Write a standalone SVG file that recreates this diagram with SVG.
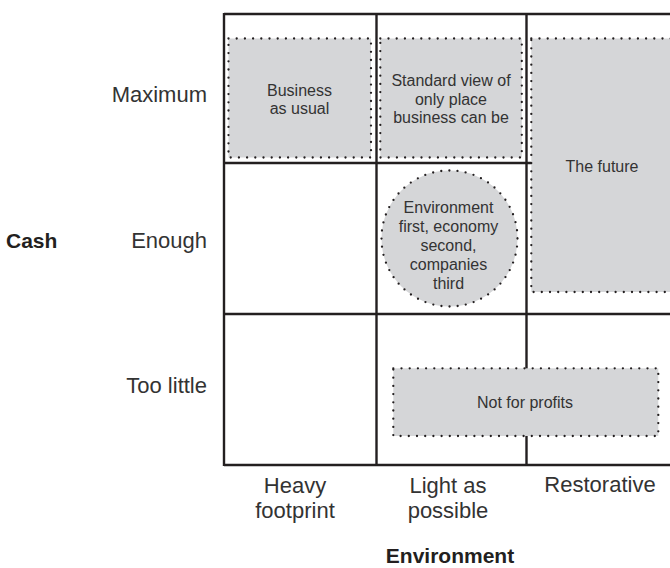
<svg xmlns="http://www.w3.org/2000/svg" width="670" height="568" viewBox="0 0 670 568">
<style>
  .grid { stroke: #231f20; stroke-width: 2.4; fill: none; }
  .zone { fill: #d5d6d8; stroke: #231f20; stroke-width: 2.3; stroke-dasharray: 0 8.2; stroke-linecap: round; }
  .t { font-family: "Liberation Sans", Arial, sans-serif; fill: #333; }
  .in { font-size: 16px; text-anchor: middle; }
  .ax { font-size: 22px; }
  .axb { font-size: 21px; font-weight: bold; fill: #231f20; }
</style>
<rect width="670" height="568" fill="#ffffff"/>
<g id="grid">
  <line class="grid" x1="224" y1="14" x2="670" y2="14"/>
  <line class="grid" x1="224" y1="163" x2="670" y2="163"/>
  <line class="grid" x1="224" y1="314" x2="670" y2="314"/>
  <line class="grid" x1="224" y1="465" x2="670" y2="465"/>
  <line class="grid" x1="224" y1="13" x2="224" y2="466"/>
  <line class="grid" x1="376.5" y1="13" x2="376.5" y2="466"/>
  <line class="grid" x1="526.5" y1="13" x2="526.5" y2="466"/>
</g>
<g id="connectors"></g>
<g id="business-as-usual">
  <rect class="zone" x="228.5" y="38.5" width="142.5" height="119"/>
  <text class="t in" x="299.5" y="96">Business</text>
  <text class="t in" x="299.5" y="114">as usual</text>
</g>
<g id="standard-view">
  <rect class="zone" x="380.3" y="38.5" width="141.5" height="119"/>
  <text class="t in" x="451" y="86">Standard view of</text>
  <text class="t in" x="451" y="104.5">only place</text>
  <text class="t in" x="451" y="123">business can be</text>
</g>
<g id="the-future">
  <rect class="zone" x="531.3" y="38.5" width="145" height="253.5"/>
  <text class="t in" x="602" y="172">The future</text>
</g>
<g id="environment-first">
  <circle class="zone" cx="449.5" cy="238.5" r="68"/>
  <text class="t in" x="448.5" y="212.5">Environment</text>
  <text class="t in" x="448.5" y="231.5">first, economy</text>
  <text class="t in" x="448.5" y="250.5">second,</text>
  <text class="t in" x="448.5" y="269.5">companies</text>
  <text class="t in" x="448.5" y="288.5">third</text>
</g>
<g id="not-for-profits">
  <rect class="zone" x="393.3" y="368.3" width="265" height="67.7"/>
  <text class="t in" x="525" y="408">Not for profits</text>
</g>
<g id="cash-axis">
  <text class="t axb" x="6" y="248">Cash</text>
  <text class="t ax" x="207" y="102" text-anchor="end">Maximum</text>
  <text class="t ax" x="207" y="248" text-anchor="end">Enough</text>
  <text class="t ax" x="207" y="393" text-anchor="end">Too little</text>
</g>
<g id="environment-axis">
  <text class="t ax" x="295" y="493" text-anchor="middle">Heavy</text>
  <text class="t ax" x="295" y="518" text-anchor="middle">footprint</text>
  <text class="t ax" x="448" y="493" text-anchor="middle">Light as</text>
  <text class="t ax" x="448" y="518" text-anchor="middle">possible</text>
  <text class="t ax" x="600" y="492" text-anchor="middle">Restorative</text>
  <text class="t axb" x="450" y="563" text-anchor="middle">Environment</text>
</g>
</svg>
